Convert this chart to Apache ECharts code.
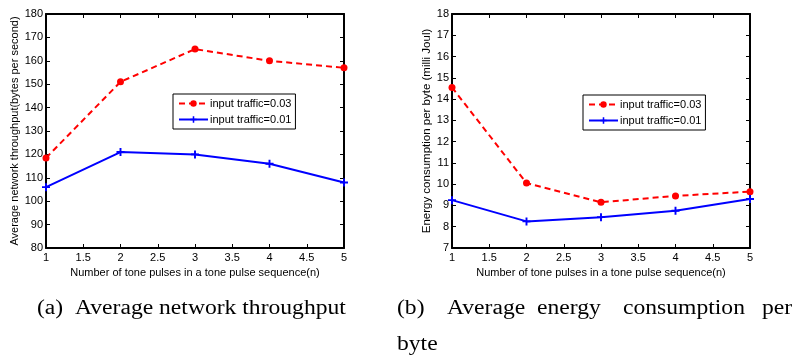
<!DOCTYPE html>
<html>
<head>
<meta charset="utf-8">
<script src="https://cdn.jsdelivr.net/npm/echarts@6/dist/echarts.min.js"></script>
<style>
  html, body { margin: 0; padding: 0; background: #fff; }
  #chart { width: 800px; height: 362px; }
</style>
</head>
<body>
<div id="chart"></div>
<script>
const pulses = [1, 2, 3, 4, 5];
const throughput003 = [118.5, 151, 165, 160, 157];
const throughput001 = [106, 121, 120, 116, 108];
const energy003 = [14.55, 10.05, 9.15, 9.45, 9.65];
const energy001 = [9.25, 8.25, 8.45, 8.75, 9.3];
const seriesNames = ["input traffic=0.03", "input traffic=0.01"];

const chart = echarts.init(document.getElementById("chart"));

const plus = "path://M0,3.8 L10,3.8 L10,6.2 L0,6.2 Z M3.8,0 L6.2,0 L6.2,10 L3.8,10 Z";
const font = "Liberation Sans, Arial, sans-serif";
const serif = "Liberation Serif, Times New Roman, serif";

const pairs = (ys) => pulses.map((x, i) => [x, ys[i]]);

function xAxes(gi) {
  return [
    {
      gridIndex: gi, type: "value", min: 1, max: 5, interval: 0.5,
      name: "Number of tone pulses in a tone pulse sequence(n)",
      nameLocation: "middle", nameGap: 17,
      nameTextStyle: { color: "#000", fontSize: 11, fontFamily: font },
      axisLine: { onZero: false, lineStyle: { color: "#000", width: 2 } },
      axisTick: { inside: true, length: 4, lineStyle: { color: "#000" } },
      axisLabel: { color: "#000", fontSize: 11, fontFamily: font, margin: 4 },
      splitLine: { show: false }
    },
    {
      gridIndex: gi, type: "value", min: 1, max: 5, interval: 0.5, position: "top",
      axisLine: { onZero: false, lineStyle: { color: "#000", width: 2 } },
      axisTick: { inside: true, length: 4, lineStyle: { color: "#000" } },
      axisLabel: { show: false },
      splitLine: { show: false }
    }
  ];
}

function yAxes(gi, min, max, step, name, gap, nameSize) {
  return [
    {
      gridIndex: gi, type: "value", min: min, max: max, interval: step,
      name: name, nameLocation: "middle", nameGap: gap,
      nameTextStyle: { color: "#000", fontSize: nameSize, fontFamily: font },
      axisLine: { onZero: false, lineStyle: { color: "#000", width: 2 } },
      axisTick: { inside: true, length: 4, lineStyle: { color: "#000" } },
      axisLabel: { color: "#000", fontSize: 11, fontFamily: font, margin: 3 },
      splitLine: { show: false }
    },
    {
      gridIndex: gi, type: "value", min: min, max: max, interval: step,
      position: "right",
      axisLine: { onZero: false, lineStyle: { color: "#000", width: 2 } },
      axisTick: { inside: true, length: 4, lineStyle: { color: "#000" } },
      axisLabel: { show: false },
      splitLine: { show: false }
    }
  ];
}

function redSeries(gi, data) {
  return {
    name: seriesNames[0], type: "line", xAxisIndex: gi * 2, yAxisIndex: gi * 2,
    data: pairs(data), symbol: "circle", symbolSize: 7,
    itemStyle: { color: "#ff0000" },
    lineStyle: { color: "#ff0000", width: 2, type: [6, 4] },
    z: 3
  };
}

function blueSeries(gi, data) {
  return {
    name: seriesNames[1], type: "line", xAxisIndex: gi * 2, yAxisIndex: gi * 2,
    data: pairs(data), symbol: plus, symbolSize: 8,
    itemStyle: { color: "#0000ff" },
    lineStyle: { color: "#0000ff", width: 2 },
    z: 3
  };
}

function legendAt(left, top) {
  return {
    data: seriesNames, left: left, top: top, orient: "vertical",
    itemWidth: 29, itemHeight: 8, itemGap: 5,
    padding: [4, 4, 4, 5],
    borderColor: "#000", borderWidth: 1, backgroundColor: "#fff",
    textStyle: { color: "#000", fontSize: 11, fontFamily: font, padding: [0, 0, 0, -3] },
    selectedMode: false
  };
}

function word(text, x, y) {
  return {
    type: "text", x: x, y: y, scaleX: 1.18,
    style: { text: text, x: 0, y: 0, fill: "#000", fontSize: 20, fontFamily: serif, verticalAlign: "middle" }
  };
}

const option = {
  backgroundColor: "#fff",
  animation: false,
  grid: [
    { left: 46, top: 14, width: 298, height: 234 },
    { left: 452, top: 14, width: 298, height: 234 }
  ],
  xAxis: [...xAxes(0), ...xAxes(1)],
  yAxis: [
    ...yAxes(0, 80, 180, 10, "Average network throughput(bytes per second)", 24, 11),
    ...yAxes(1, 7, 18, 1, "Energy consumption per byte (milli Joul)", 16, 11.5)
  ],
  legend: [legendAt(173, 94), legendAt(583, 95)],
  series: [
    redSeries(0, throughput003),
    blueSeries(0, throughput001),
    redSeries(1, energy003),
    blueSeries(1, energy001)
  ],
  graphic: [
    word("(a)  Average network throughput", 37, 309),
    word("(b)", 397, 309),
    word("Average", 447, 309),
    word("energy", 537, 309),
    word("consumption", 623, 309),
    word("per", 762, 309),
    word("byte", 397, 345)
  ]
};

chart.setOption(option);
</script>
</body>
</html>
